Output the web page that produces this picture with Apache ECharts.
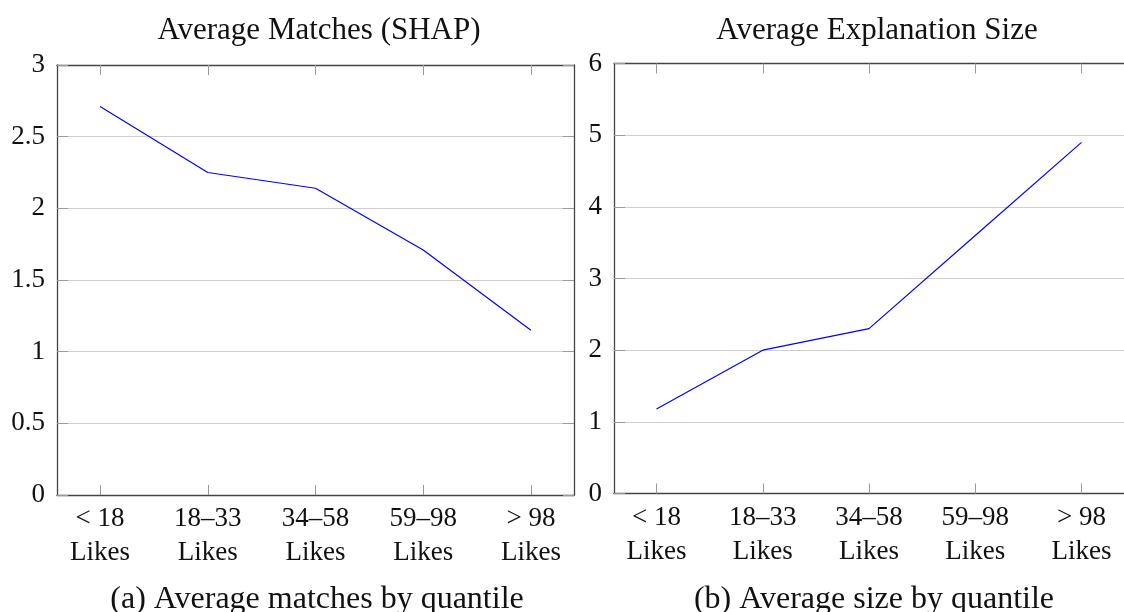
<!DOCTYPE html>
<html>
<head>
<meta charset="utf-8">
<script src="https://cdn.jsdelivr.net/npm/echarts@6/dist/echarts.min.js"></script>
<style>
  html, body { margin: 0; padding: 0; background: #fff; }
  #chart { width: 1124px; height: 612px; }
</style>
</head>
<body>
<div id="chart"></div>
<script>
// quantile buckets (x axis)
const categories = ['< 18\nLikes', '18–33\nLikes', '34–58\nLikes', '59–98\nLikes', '> 98\nLikes']
// (a) average matches (SHAP)
const avgMatches = [2.71, 2.25, 2.14, 1.71, 1.15]
// (b) average explanation size
const avgSize = [1.18, 2.0, 2.3, 3.6, 4.9]
const matchTicks = [0, 0.5, 1, 1.5, 2, 2.5, 3]
const sizeTicks = [0, 1, 2, 3, 4, 5, 6]

const FONT = '"Liberation Serif", "DejaVu Serif", serif'
const frameColor = '#444'
const tickColor = '#9a9a9a'
const gridColor = '#cfcfcf'

const chart = echarts.init(document.getElementById('chart'), undefined, { renderer: 'canvas' })

const xIdx = categories.map((_, i) => i)

function xAxes(gridIndex) {
  const base = {
    gridIndex,
    type: 'value',
    min: -0.4,
    max: 4.4,
    splitLine: { show: false },
    axisLine: { show: true, onZero: false, lineStyle: { color: frameColor, width: 1.3 } },
    axisTick: { show: true, inside: true, length: 10, customValues: xIdx, lineStyle: { color: tickColor, width: 1 } }
  }
  return [
    {
      ...base,
      position: 'bottom',
      axisLabel: {
        customValues: xIdx,
        formatter: v => categories[Math.round(v)],
        fontFamily: FONT, fontSize: 27, color: '#111', lineHeight: 34, margin: 7
      }
    },
    { ...base, position: 'top', axisLabel: { show: false } }
  ]
}

// right panel is cut by the page edge, so its right border is not drawn
function yAxes(gridIndex, ticks, showRight) {
  const base = {
    gridIndex,
    type: 'value',
    min: ticks[0],
    max: ticks[ticks.length - 1],
    interval: ticks[1] - ticks[0],
    axisLine: { show: true, onZero: false, lineStyle: { color: frameColor, width: 1.3 } },
    axisTick: { show: true, inside: true, length: 11, lineStyle: { color: tickColor, width: 1 } }
  }
  return [
    {
      ...base,
      position: 'left',
      splitLine: { show: true, lineStyle: { color: gridColor, width: 1 } },
      axisLabel: {
        fontFamily: FONT, fontSize: 27, color: '#111', margin: 12,
        formatter: v => String(v)
      }
    },
    {
      ...base,
      position: 'right',
      show: showRight,
      splitLine: { show: false },
      axisLabel: { show: false }
    }
  ]
}

const titleStyle = { fontFamily: FONT, fontSize: 31, fontWeight: 'normal', color: '#111' }
const captionStyle = { fontFamily: FONT, fontSize: 32, fontWeight: 'normal', color: '#111' }

chart.setOption({
  animation: false,
  title: [
    { text: 'Average Matches (SHAP)', left: 314, top: 10, textAlign: 'center', textStyle: titleStyle },
    { text: 'Average Explanation Size', left: 872, top: 10, textAlign: 'center', textStyle: titleStyle },
    { text: '(a) Average matches by quantile', left: 312, top: 579, textAlign: 'center', textStyle: captionStyle },
    { text: '(b) Average size by quantile', left: 869, top: 579, textAlign: 'center', textStyle: captionStyle }
  ],
  grid: [
    { left: 57, top: 65, width: 517, height: 430 },
    { left: 614, top: 63.5, width: 518, height: 430 }
  ],
  xAxis: [...xAxes(0), ...xAxes(1)],
  yAxis: [...yAxes(0, matchTicks, true), ...yAxes(1, sizeTicks, false)],
  series: [
    {
      type: 'line',
      xAxisIndex: 0, yAxisIndex: 0,
      data: avgMatches.map((v, i) => [i, v]),
      symbol: 'none',
      lineStyle: { color: '#0000ff', width: 1.2 }
    },
    {
      type: 'line',
      xAxisIndex: 2, yAxisIndex: 2,
      data: avgSize.map((v, i) => [i, v]),
      symbol: 'none',
      lineStyle: { color: '#0000ff', width: 1.2 }
    }
  ]
})
</script>
</body>
</html>
